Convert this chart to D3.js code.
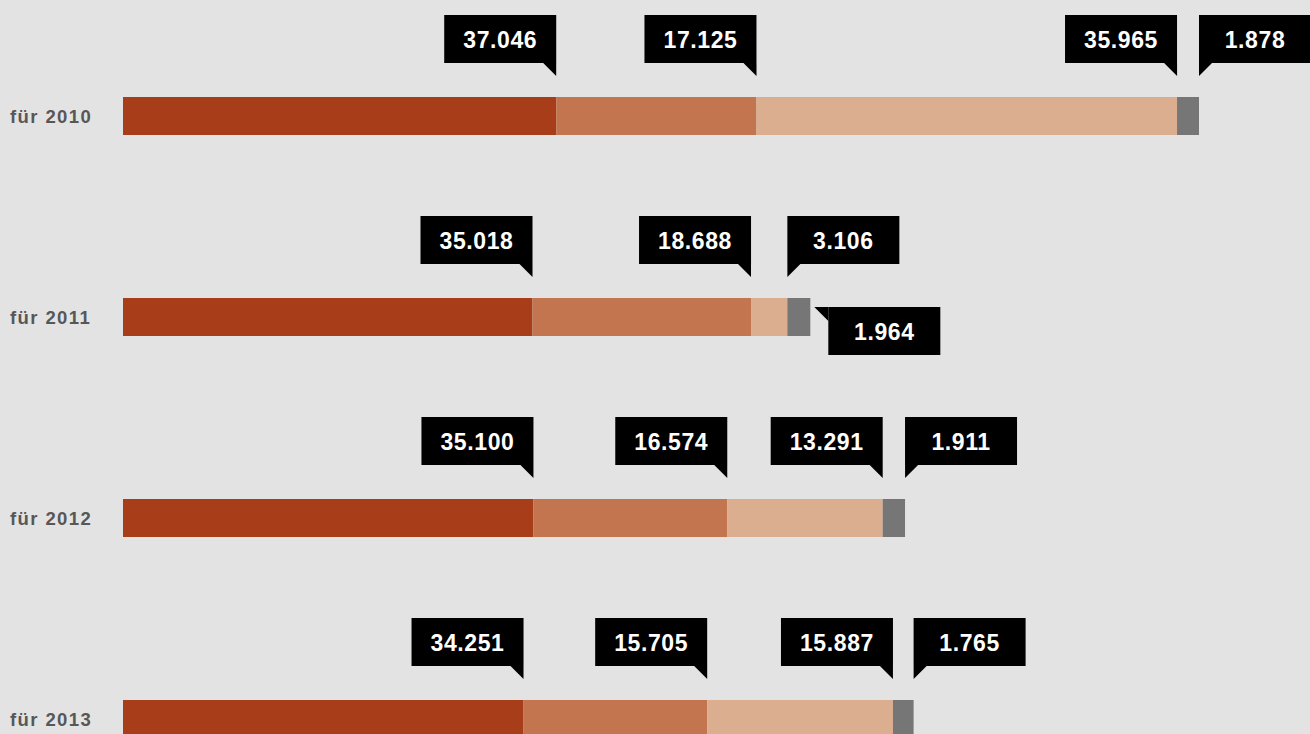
<!DOCTYPE html>
<html>
<head>
<meta charset="utf-8">
<script src="https://cdn.jsdelivr.net/npm/d3@7"></script>
<style>
    html, body { margin: 0; padding: 0; background: #e3e3e3; overflow: hidden; }
    svg { display: block; font-family: "Liberation Sans", Arial, sans-serif; }
</style>
</head>
<body>
<div id="container"></div>
<script>
var years = ["für 2010", "für 2011", "für 2012", "für 2013"]
var series1 = [37046, 35018, 35100, 34251]
var series2 = [17125, 18688, 16574, 15705]
var series3 = [35965, 3106, 13291, 15887]
var series4 = [1878, 1964, 1911, 1765]
var colors = ["#a83e19", "#c2754f", "#dcae90", "#767676"]

main()

function main() {
    const width = 1310
    const height = 734
    const marginLeft = 123
    const barHeight = 38
    const boxW = 112
    const boxH = 48
    const tipSize = 13

    var rows = years.map((year, i) => {
        var values = [series1[i], series2[i], series3[i], series4[i]]
        var acc = 0
        var segs = values.map((v, j) => {
            let s = {value: v, x0: acc, x1: acc + v, k: j}
            acc += v
            return s
        })
        return {year: year, segs: segs, total: acc}
    })

    const x = d3.scaleLinear()
        .domain([0, d3.max(rows, d => d.total)])
        .range([marginLeft, 1199])

    const y = d3.scalePoint()
        .domain(years)
        .range([97, 700])

    const svg = d3.create("svg")
        .attr("width", width)
        .attr("height", height)

    svg.append("rect")
        .attr("width", width)
        .attr("height", height)
        .attr("fill", "#e3e3e3")

    var fmt = d3.formatLocale({decimal: ",", thousands: ".", grouping: [3], currency: ["", "€"]}).format(",")

    rows.forEach((row) => {
        var g = svg.append("g")
        var top = Math.round(y(row.year))

        g.append("text")
            .attr("x", 10)
            .attr("y", top + barHeight / 2 + 7)
            .attr("fill", "#575757")
            .style("font-size", "18.5px")
            .style("font-weight", "bold")
            .style("letter-spacing", "1.4px")
            .text(row.year)

        g.selectAll("rect")
            .data(row.segs)
            .enter()
            .append("rect")
            .attr("x", d => x(d.x0))
            .attr("y", top)
            .attr("width", d => x(d.x1) - x(d.x0))
            .attr("height", barHeight)
            .attr("fill", d => colors[d.k])

        // place callouts: right-anchored, else left-anchored, else beside below
        var prevRight = -Infinity
        row.segs.forEach((d) => {
            var end = x(d.x1)
            var bx, by, tip
            var boxTop = top - 82
            if (end - boxW >= prevRight) {
                bx = end - boxW
                by = boxTop
                tip = [[end - tipSize, by + boxH], [end, by + boxH], [end, by + boxH + tipSize]]
            } else if (end >= prevRight) {
                bx = end
                by = boxTop
                tip = [[end, by + boxH], [end + tipSize, by + boxH], [end, by + boxH + tipSize]]
            } else {
                var tx = end + 4
                by = top + 9
                bx = tx + 14
                tip = [[tx, by], [bx, by], [bx, by + 14]]
            }
            if (by === boxTop) prevRight = bx + boxW

            g.append("rect")
                .attr("x", bx)
                .attr("y", by)
                .attr("width", boxW)
                .attr("height", boxH)
                .attr("fill", "#000")
            g.append("path")
                .attr("d", d3.line()(tip) + "Z")
                .attr("fill", "#000")
            g.append("text")
                .attr("x", bx + boxW / 2)
                .attr("y", by + boxH / 2 + 8.5)
                .attr("text-anchor", "middle")
                .attr("fill", "#fff")
                .style("font-size", "23px")
                .style("font-weight", "bold")
                .style("letter-spacing", "0.6px")
                .text(fmt(d.value))
        })
    })

    container.append(svg.node())
}
</script>
</body>
</html>
